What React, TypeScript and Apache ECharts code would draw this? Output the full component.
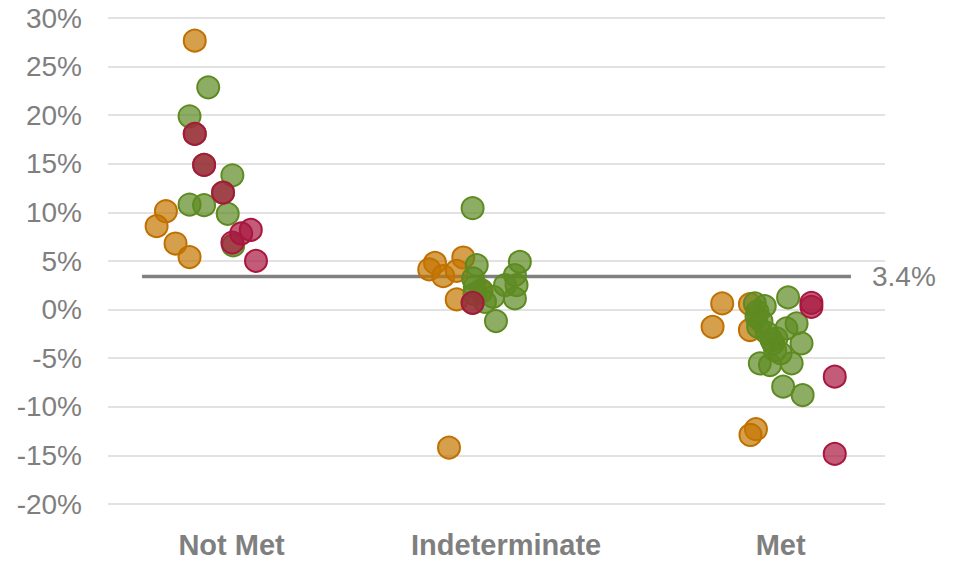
import React, { useEffect, useRef } from "react";
import * as echarts from "echarts";

// Categories (x positions 1, 2, 3 on a value axis, points jittered around them)
const categories = ["Not Met", "Indeterminate", "Met"];
const yTicks = { min: -20, max: 30, interval: 5 };
const threshold = 3.4;
const thresholdSpan = [0.674, 3.256];

// [categoryIndex (1-based), jitter, value %]
const orangePoints: [number, number, number][] = [
  [1, -0.134, 27.67], [1, -0.239, 10.12], [1, -0.273, 8.58], [1, -0.204, 6.8], [1, -0.153, 5.4],
  [2, -0.259, 4.81], [2, -0.28, 4.13], [2, -0.229, 3.44], [2, -0.156, 5.36], [2, -0.18, 3.99],
  [2, -0.18, 1.05], [2, -0.09, 1.8], [2, -0.208, -14.2],
  [3, -0.213, 0.64], [3, -0.248, -1.77], [3, -0.112, 0.57], [3, -0.112, -2.1], [3, -0.09, -12.3], [3, -0.11, -12.9],
];

const greenPoints: [number, number, number][] = [
  [1, -0.085, 22.87], [1, -0.153, 19.89], [1, 0.003, 13.82], [1, -0.153, 10.81], [1, -0.1, 10.74],
  [1, -0.014, 9.85], [1, 0.006, 6.6], [1, -0.134, 18.07], [1, -0.1, 14.88], [1, -0.031, 12.04],
  [2, -0.122, 10.43], [2, 0.05, 4.91], [2, -0.107, 4.57], [2, -0.12, 3.2], [2, -0.114, 2.35],
  [2, -0.09, 2.0], [2, -0.047, 1.32], [2, -0.004, 2.52], [2, 0.032, 3.55], [2, 0.038, 2.52],
  [2, 0.032, 1.15], [2, -0.037, -1.18], [2, -0.077, 0.8], [2, -0.122, 0.7], [2, -0.115, 1.6],
  [3, -0.094, 0.64], [3, -0.058, 0.36], [3, -0.088, -0.74], [3, -0.082, -1.77], [3, -0.033, -3.13],
  [3, -0.076, -5.53], [3, -0.039, -5.7], [3, 0.027, 1.25], [3, 0.058, -1.42], [3, 0.076, -3.47],
  [3, 0.021, -1.93], [3, -0.015, -2.96], [3, -0.027, -3.47], [3, 0.04, -5.53], [3, 0.009, -7.93],
  [3, 0.08, -8.79], [3, -0.085, -0.2], [3, -0.07, -1.2], [3, -0.05, -2.4], [3, -0.02, -4.2], [3, 0.0, -4.5],
];

const redPoints: [number, number, number][] = [
  [1, -0.134, 18.07], [1, -0.1, 14.88], [1, -0.031, 12.04], [1, 0.07, 8.2], [1, 0.035, 7.83],
  [1, 0.003, 6.9], [1, 0.089, 5.02],
  [2, -0.122, 0.7],
  [3, 0.112, 0.7], [3, 0.112, 0.29], [3, 0.197, -6.9], [3, 0.197, -14.85],
];

const toXY = (pts: [number, number, number][]) => pts.map(([c, j, v]) => [c + j, v]);

const FONT = "'Liberation Sans', Arial, sans-serif";

function scatter(name: string, pts: [number, number, number][], fill: string, border: string) {
  return {
    name,
    type: "scatter",
    data: toXY(pts),
    symbolSize: 22,
    itemStyle: { color: fill, borderColor: border, borderWidth: 2, opacity: 1 },
    z: 3,
  };
}

export default function App() {
  const ref = useRef<HTMLDivElement>(null);
  useEffect(() => {
    if (!ref.current) return;
    const chart = echarts.init(ref.current, null, { renderer: "svg" });
    chart.setOption({
      animation: false,
      grid: { left: 108, right: 68, top: 18, bottom: 57, containLabel: false },
      xAxis: {
        type: "value",
        min: 0.55,
        max: 3.38,
        axisLine: { show: false },
        axisTick: { show: false },
        splitLine: { show: false },
        axisLabel: {
          customValues: [1, 2, 3],
          formatter: (v: number) => categories[Math.round(v) - 1] ?? "",
          fontFamily: FONT,
          fontSize: 29,
          fontWeight: "bold",
          color: "#7f7f7f",
          margin: 26,
        },
      },
      yAxis: {
        type: "value",
        min: yTicks.min,
        max: yTicks.max,
        interval: yTicks.interval,
        axisLine: { show: false },
        axisTick: { show: false },
        splitLine: { lineStyle: { color: "#d9d9d9", width: 1.5 } },
        axisLabel: {
          formatter: (v: number) => `${v}%`,
          fontFamily: FONT,
          fontSize: 28,
          color: "#7f7f7f",
          margin: 26,
        },
      },
      series: [
        {
          type: "line",
          data: [[thresholdSpan[0], threshold], [thresholdSpan[1], threshold]],
          symbol: "none",
          lineStyle: { color: "#808080", width: 3.5 },
          z: 2,
          endLabel: {
            show: true,
            formatter: () => `${threshold}%`,
            fontFamily: FONT,
            fontSize: 28,
            color: "#7f7f7f",
            distance: 21,
          },
        },
        scatter("Orange", orangePoints, "rgba(196,118,0,0.7)", "#c07000"),
        scatter("Green", greenPoints, "rgba(94,138,34,0.7)", "#5e8a22"),
        scatter("Red", redPoints, "rgba(168,23,63,0.7)", "#a8173f"),
      ],
    });
    return () => chart.dispose();
  }, []);
  return (
    <div
      ref={ref}
      style={{ position: "fixed", left: 0, top: 0, width: 953, height: 561, background: "#fff" }}
    />
  );
}
